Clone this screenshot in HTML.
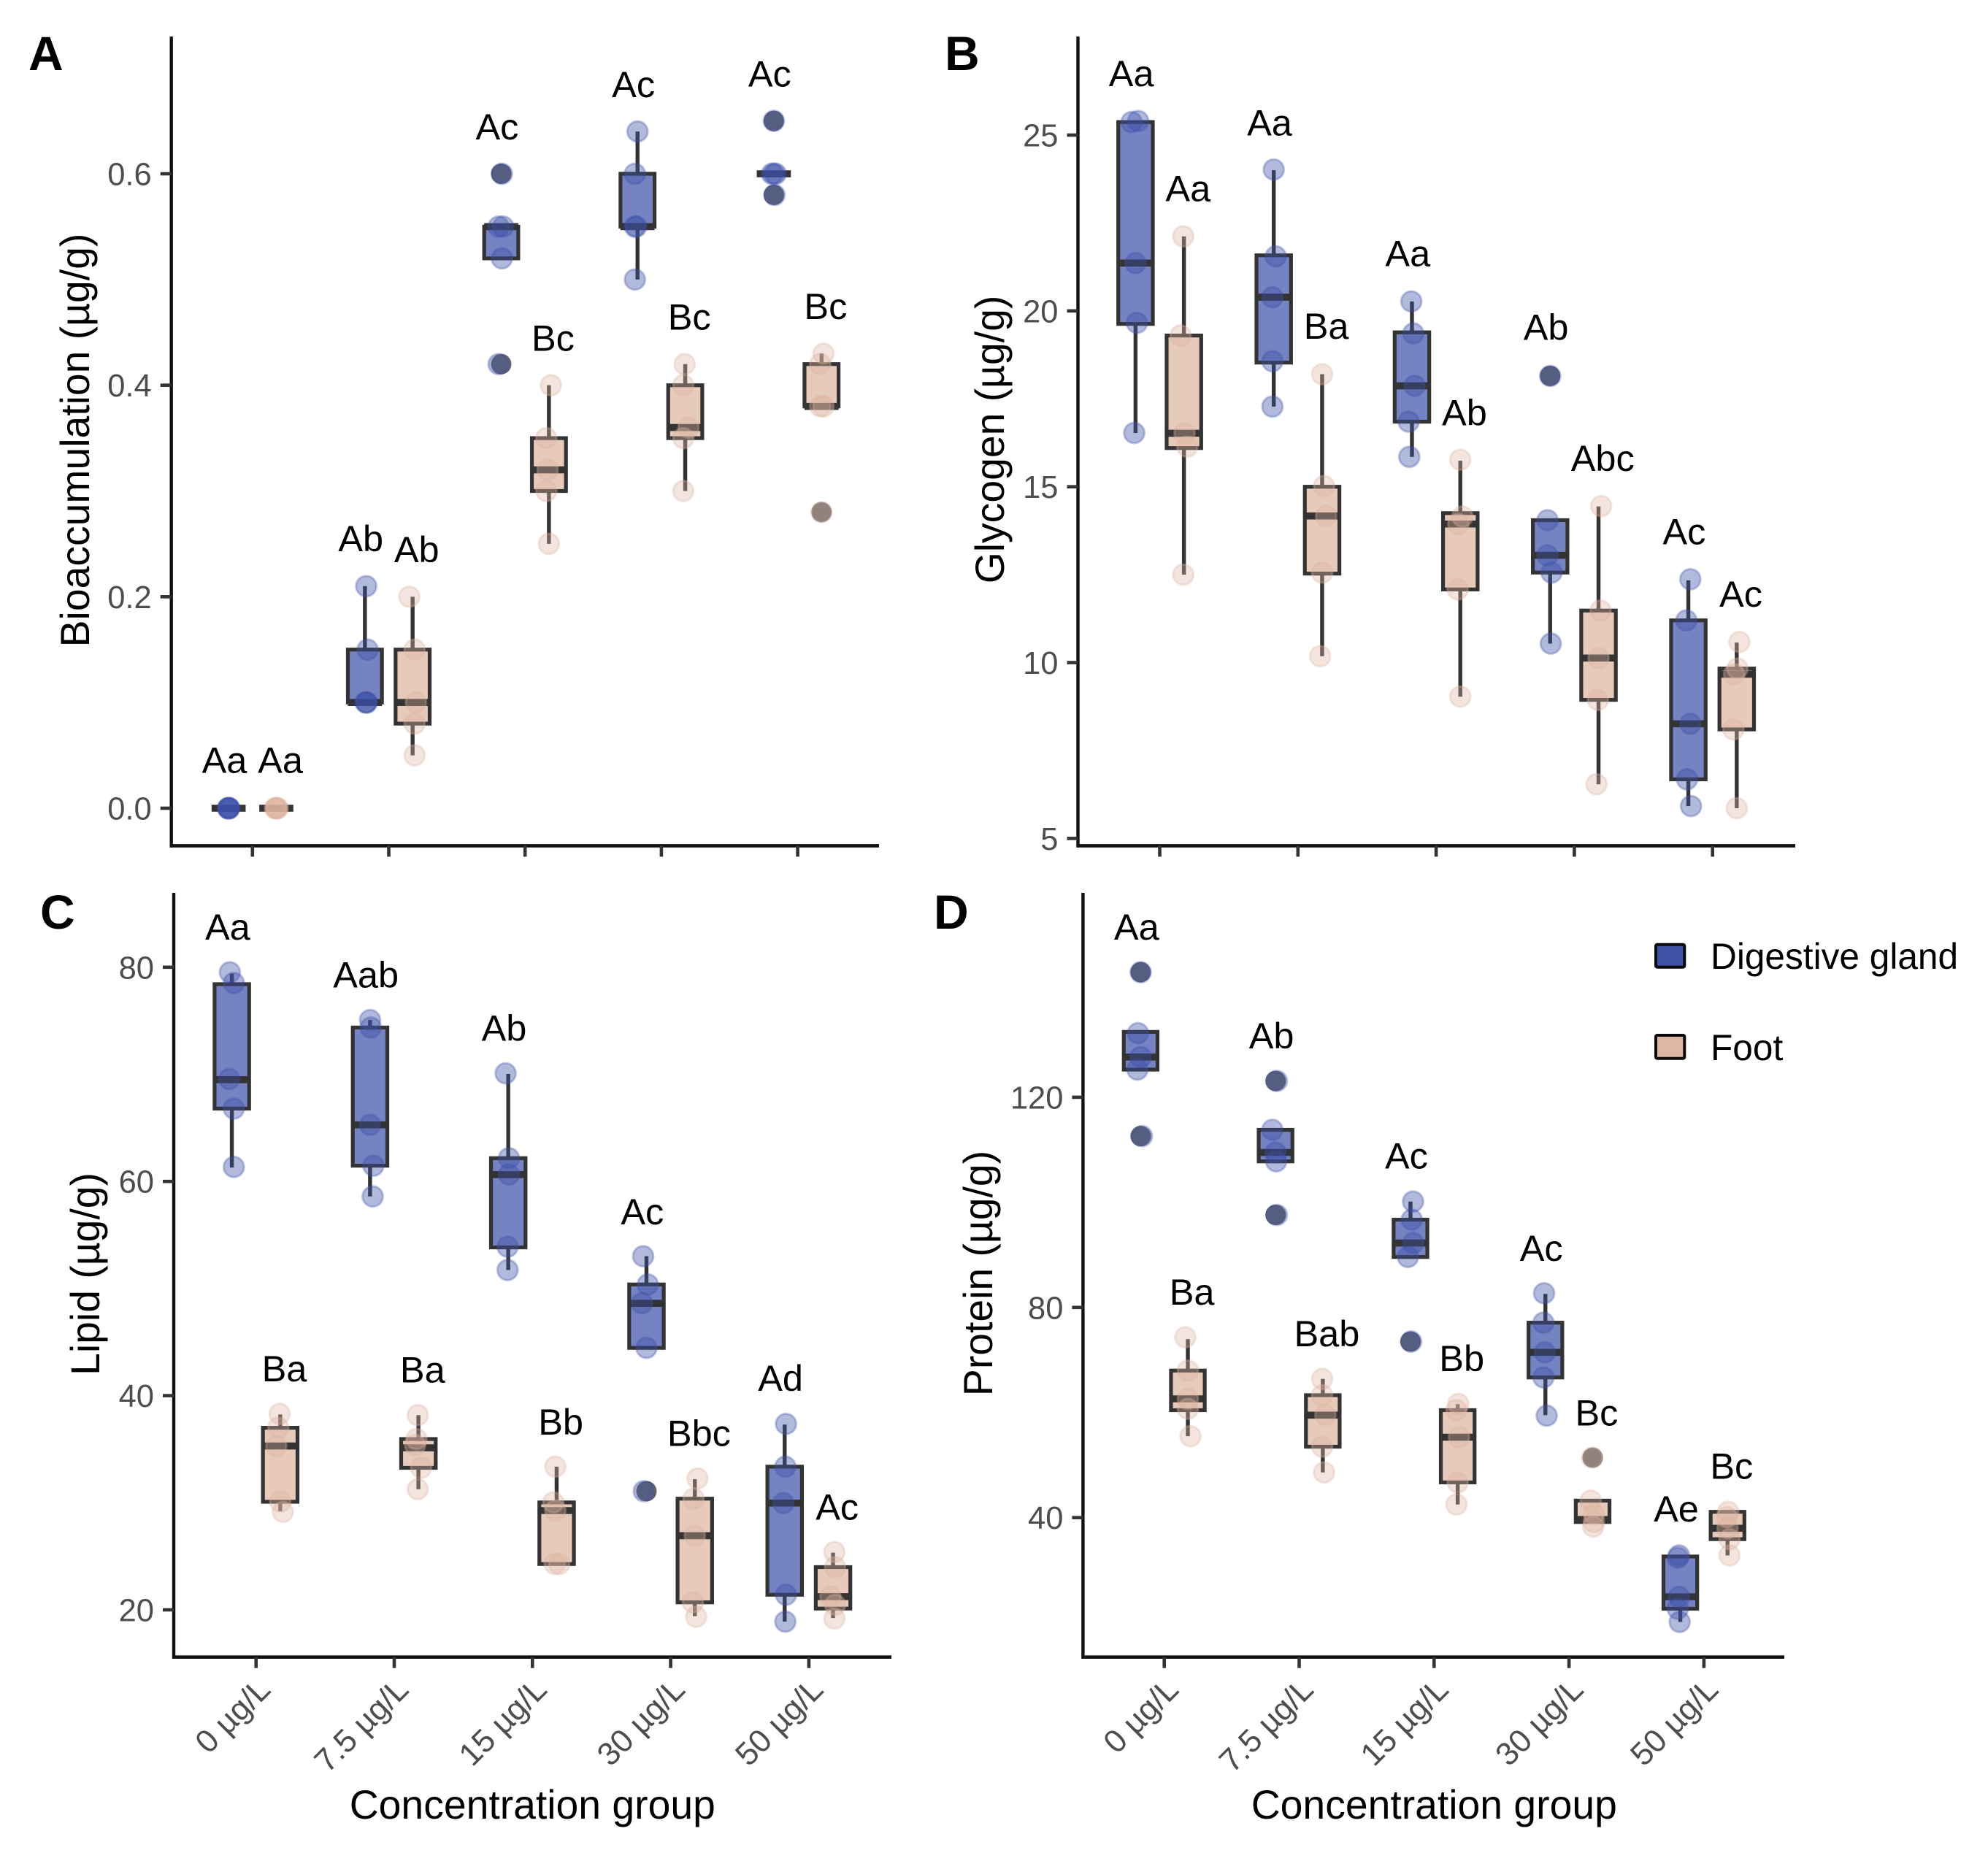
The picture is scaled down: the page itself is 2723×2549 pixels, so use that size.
<!DOCTYPE html>
<html lang="en">
<head>
<meta charset="utf-8">
<title>Bioaccumulation, glycogen, lipid and protein by concentration group</title>
<style>
html,body{margin:0;padding:0;background:#fff}
svg{display:block}
text{font-family:"Liberation Sans",Arial,sans-serif}
</style>
</head>
<body>
<svg id="figure" xmlns="http://www.w3.org/2000/svg" width="2723" height="2549" viewBox="0 0 2723 2549">
<rect x="0" y="0" width="2723" height="2549" fill="#ffffff"/>
<g>
<g>
<rect x="2268" y="1293.7" width="39.3" height="31" rx="2" fill="#3f51a5" stroke="#0a0a0a" stroke-width="4"/>
<text x="2343" y="1327" font-size="49.6" fill="#000">Digestive gland</text>
</g>
<g>
<rect x="2268" y="1418" width="39.3" height="31.7" rx="2" fill="#dfb6a3" stroke="#0a0a0a" stroke-width="4"/>
<text x="2343" y="1452" font-size="49.6" fill="#000">Foot</text>
</g>
</g>
<script>
// ---------- shared data ----------
const categories = ["0 µg/L", "7.5 µg/L", "15 µg/L", "30 µg/L", "50 µg/L"];

// Each box row: [lower whisker, Q1, median, Q3, upper whisker]
// Each point: [value, horizontal jitter]

// ---------- Panel A: Bioaccumulation ----------
const aTickValues = [0, 0.2, 0.4, 0.6];
const aTickLabels = ["0.0", "0.2", "0.4", "0.6"];
const aGlandBoxes = [[0,0,0,0,0],[0.1,0.1,0.1,0.15,0.21],[0.52,0.52,0.55,0.55,0.55],[0.5,0.55,0.55,0.6,0.64],[0.6,0.6,0.6,0.6,0.6]];
const aFootBoxes = [[0,0,0,0,0],[0.05,0.08,0.1,0.15,0.2],[0.25,0.3,0.32,0.35,0.4],[0.3,0.35,0.36,0.4,0.42],[0.38,0.38,0.38,0.42,0.43]];
const aGlandOutliers = [[],[],[0.6,0.42],[],[0.65,0.58]];
const aFootOutliers = [[],[],[],[],[0.28]];
const aGlandPoints = [
 [[0,-1],[0,0],[0,1],[0,0],[0,0]],
 [[0.21,2],[0.15,4],[0.1,2],[0.1,1],[0.1,3]],
 [[0.6,1],[0.55,-4],[0.55,3],[0.52,1],[0.42,-4]],
 [[0.64,0],[0.6,-4],[0.55,-2],[0.55,-4],[0.5,-4]],
 [[0.65,0],[0.6,0],[0.6,3],[0.6,-3],[0.58,1]]];
const aFootPoints = [
 [[0,-1],[0,1],[0,0],[0,2],[0,-2]],
 [[0.2,-5],[0.15,3],[0.1,5],[0.08,3],[0.05,3]],
 [[0.4,3],[0.35,-4],[0.32,-2],[0.3,-4],[0.25,0]],
 [[0.42,-1],[0.4,-3],[0.36,5],[0.35,-3],[0.3,-3]],
 [[0.43,3],[0.42,-2],[0.38,3],[0.38,-2],[0.28,0]]];
const aGlandLabels = ["Aa","Ab","Ac","Ac","Ac"];
const aFootLabels = ["Aa","Ab","Bc","Bc","Bc"];
const aGlandLabelValues = [0.045,0.2546,0.6438,0.684,0.694];
const aFootLabelValues = [0.045,0.244,0.444,0.464,0.474];

// ---------- Panel B: Glycogen ----------
const bTickValues = [5, 10, 15, 20, 25];
const bTickLabels = ["5", "10", "15", "20", "25"];
const bGlandBoxes = [[16.53,19.63,21.36,25.37,25.37],[17.28,18.53,20.39,21.58,24.0],[15.85,16.85,17.87,19.39,20.27],[10.54,12.56,13.05,14.05,14.05],[5.92,6.68,8.26,11.2,12.34]];
const bFootBoxes = [[12.5,16.1,16.52,19.3,22.12],[10.18,12.53,14.17,15.0,18.2],[9.03,12.08,13.94,14.25,15.74],[6.54,8.94,10.13,11.48,14.44],[5.86,8.1,9.67,9.83,10.57]];
const bGlandOutliers = [[],[],[],[18.15],[]];
const bFootOutliers = [[],[],[],[],[]];
const bGlandPoints = [
 [[25.37,-6],[25.4,4],[21.36,0],[19.66,2],[16.53,-2]],
 [[24.02,0],[21.55,3],[20.39,-2],[18.57,-2],[17.28,-2]],
 [[20.27,-1],[19.36,2],[17.87,4],[16.85,-5],[15.85,-4]],
 [[14.05,-4],[13.05,-4],[12.56,2],[10.54,1],[18.15,0]],
 [[12.37,3],[11.2,-3],[8.26,3],[6.68,-2],[5.92,4]]];
const bFootPoints = [
 [[22.12,-1],[19.3,-5],[16.52,1],[16.14,5],[12.5,-1]],
 [[18.2,0],[15.02,3],[14.17,6],[12.56,0],[10.18,-3]],
 [[15.77,0],[14.15,3],[13.94,-3],[12.08,-4],[9.03,0]],
 [[14.45,4],[11.48,3],[10.13,0],[8.94,-1],[6.54,-3]],
 [[10.59,4],[9.83,1],[9.67,-4],[8.1,-5],[5.86,0]]];
const bGlandLabels = ["Aa","Aa","Aa","Ab","Ac"];
const bFootLabels = ["Aa","Ba","Ab","Abc","Ac"];
const bGlandLabelValues = [26.73,25.33,21.62,19.52,13.71];
const bFootLabelValues = [23.46,19.55,17.09,15.79,11.93];

// ---------- Panel C: Lipid ----------
const cTickValues = [20, 40, 60, 80];
const cTickLabels = ["20", "40", "60", "80"];
const cGlandBoxes = [[61.3,66.8,69.5,78.42,79.4],[58.6,61.47,65.28,74.37,75.07],[51.73,53.84,60.64,62.17,70.03],[44.46,44.46,48.62,50.38,53.02],[18.9,21.41,29.97,33.37,37.3]];
const cFootBoxes = [[29.2,30.09,35.3,37.0,38.24],[31.26,33.26,35.13,35.95,38.18],[24.28,24.28,29.27,30.03,33.37],[19.41,20.7,26.92,30.38,32.2],[19.24,20.12,21.23,23.99,25.34]];
const cGlandOutliers = [[],[],[],[31.08],[]];
const cFootOutliers = [[],[],[],[],[]];
const cGlandPoints = [
 [[79.53,-3],[78.53,3],[69.56,-4],[66.8,3],[61.35,3]],
 [[75.07,0],[74.37,1],[65.28,0],[61.47,5],[58.6,4]],
 [[70.09,-4],[62.17,1],[60.64,1],[53.9,-1],[51.73,-1]],
 [[53.02,-5],[50.38,2],[48.62,-7],[44.46,0],[31.08,-4]],
 [[37.36,2],[33.37,1],[29.97,-2],[21.41,2],[18.9,1]]];
const cFootPoints = [
 [[38.3,-1],[37.0,-3],[35.3,-6],[30.1,0],[29.15,4]],
 [[38.18,-1],[35.95,-3],[35.4,-5],[33.26,4],[31.26,-1]],
 [[33.37,-2],[30.03,-5],[29.27,-2],[24.28,-3],[24.28,4]],
 [[32.26,4],[30.38,-2],[26.92,0],[20.7,-3],[19.35,2]],
 [[25.4,2],[23.99,3],[21.23,-4],[20.47,3],[19.18,2]]];
const cGlandLabels = ["Aa","Aab","Ab","Ac","Ad"];
const cFootLabels = ["Ba","Ba","Bb","Bbc","Ac"];
const cGlandLabelValues = [83.69,79.24,74.25,57.13,41.58];
const cFootLabelValues = [42.46,42.35,37.48,36.42,29.56];

// ---------- Panel D: Protein ----------
const dTickValues = [40, 80, 120];
const dTickLabels = ["40", "80", "120"];
const dGlandBoxes = [[125.26,125.26,127.65,132.44,132.44],[107.8,107.8,109.48,113.8,113.8],[89.6,89.6,92.26,96.7,100.15],[59.5,66.67,71.45,77.1,82.57],[20.15,22.66,24.93,32.6,32.6]];
const dFootBoxes = [[55.5,60.45,62.6,67.98,73.96],[48.6,53.5,59.5,63.3,66.4],[42.5,46.7,55.3,60.45,61.6],[39.16,39.16,39.64,43.23,43.23],[32.8,35.9,37.97,41.1,41.1]];
const dGlandOutliers = [[143.8,112.6],[123.1,97.6],[73.5],[],[]];
const dFootOutliers = [[],[],[],[51.4],[]];
const dGlandPoints = [
 [[143.8,0],[132.2,-4],[127.65,0],[125.26,-5],[112.6,2]],
 [[123.1,2],[113.8,-5],[109.48,0],[107.8,1],[97.6,2]],
 [[100.15,4],[96.7,2],[92.26,4],[89.6,-4],[73.5,1]],
 [[82.7,-2],[77.1,-3],[71.45,-1],[66.67,-3],[59.4,2]],
 [[32.8,-2],[32.35,-4],[24.93,-2],[22.66,-4],[20.15,-1]]];
const dFootPoints = [
 [[74.32,-4],[67.98,0],[62.6,0],[60.7,0],[55.5,4]],
 [[66.4,-1],[63.3,-1],[59.5,4],[53.5,-1],[48.6,2]],
 [[61.65,1],[60.45,-2],[55.3,2],[46.7,0],[42.5,-2]],
 [[51.4,-1],[43.23,-3],[40.7,2],[39.16,2],[38.3,1]],
 [[41.1,1],[40.1,-1],[37.97,0],[35.9,3],[32.8,3]]];
const dGlandLabels = ["Aa","Ab","Ac","Ac","Ae"];
const dFootLabels = ["Ba","Bab","Bb","Bc","Bc"];
const dGlandLabelValues = [152.3,131.6,108.76,91.18,41.55];
const dFootLabelValues = [82.81,74.92,70.14,59.85,49.69];

// ---------- drawing ----------
const svgNS = "http://www.w3.org/2000/svg";
const figure = document.getElementById("figure");
const boxDodge = 0.175;
const labelDodge = 0.205;
const boxWidth = 0.25;
const jitterUnit = 0.0048;
const gland = {key: "digestive-gland", fill: "#3b4fa8", point: "#3b4fa8", opacity: 0.4, sign: -1};
const foot = {key: "foot", fill: "#dcb39c", point: "#dfb4a0", opacity: 0.36, sign: 1};

function make(tag, parent, attrs, text) {
  const el = document.createElementNS(svgNS, tag);
  for (const k in attrs) el.setAttribute(k, attrs[k]);
  if (text !== undefined) el.textContent = text;
  parent.appendChild(el);
  return el;
}

function drawSeries(root, layout, series, boxes, outliers, points, labels, labelValues) {
  const xPos = c => layout.x0 + c * layout.dx;
  const yPos = v => layout.yA + (v - layout.vA) * layout.k;
  boxes.forEach((b, i) => {
    const cx = xPos(i + series.sign * boxDodge);
    const halfW = boxWidth * layout.dx / 2;
    const g = make("g", root, {});
    
    
    const wLow = make("line", g, {x1: cx, x2: cx, y1: yPos(b[0]), y2: yPos(b[1]), stroke: "#333", "stroke-width": 5.4});
    
    
    const wHigh = make("line", g, {x1: cx, x2: cx, y1: yPos(b[3]), y2: yPos(b[4]), stroke: "#333", "stroke-width": 5.4});
    
    
    const rc = make("rect", g, {x: cx - halfW, y: yPos(b[3]), width: 2 * halfW, height: yPos(b[1]) - yPos(b[3]), fill: series.fill, "fill-opacity": 0.7, stroke: "#333", "stroke-width": 5.2});
    
    
    const md = make("line", g, {x1: cx - halfW, x2: cx + halfW, y1: yPos(b[2]), y2: yPos(b[2]), stroke: "#333", "stroke-width": 9.6});
    
    
    outliers[i].forEach(v => {
      const o = make("circle", g, {cx: cx, cy: yPos(v), r: 14, fill: "#333", "fill-opacity": 0.75});
      
      
    });
  });
  points.forEach((group, i) => {
    group.forEach(p => {
      const pt = make("circle", root, {cx: xPos(i + series.sign * boxDodge + p[1] * jitterUnit), cy: yPos(p[0]), r: 14, fill: series.point, "fill-opacity": series.opacity, stroke: series.point, "stroke-opacity": 0.3, "stroke-width": 3});
      
      
    });
  });
  labels.forEach((txt, i) => {
    const t = make("text", root, {x: xPos(i + series.sign * labelDodge), y: yPos(labelValues[i]) + 16.5, "text-anchor": "middle", "font-size": 50.5, fill: "#000"}, txt);
    
    
  });
}

function drawAxes(root, layout, tickValues, tickLabels) {
  const xPos = c => layout.x0 + c * layout.dx;
  const yPos = v => layout.yA + (v - layout.vA) * layout.k;
  const yAxis = make("line", root, {x1: layout.left, x2: layout.left, y1: layout.top, y2: layout.bottom + 2.3, stroke: "#111", "stroke-width": 4.4});
  
  
  const xAxis = make("line", root, {x1: layout.left - 2, x2: layout.right, y1: layout.bottom, y2: layout.bottom, stroke: "#111", "stroke-width": 4.6});
  
  
  tickValues.forEach((v, i) => {
    const tk = make("line", root, {x1: layout.left - 15, x2: layout.left, y1: yPos(v), y2: yPos(v), stroke: "#333", "stroke-width": 4.6});
    
    
    const tl = make("text", root, {x: layout.left - 27, y: yPos(v) + 15.5, "text-anchor": "end", "font-size": 43.5, fill: "#4d4d4d"}, tickLabels[i]);
    
    
  });
  categories.forEach((c, i) => {
    const tk = make("line", root, {x1: xPos(i), x2: xPos(i), y1: layout.bottom, y2: layout.bottom + 15, stroke: "#333", "stroke-width": 4.6});
    
    
    if (layout.showX) {
      const tl = make("text", root, {transform: "translate(" + (xPos(i) + 22) + "," + (layout.bottom + 47) + ") rotate(-45)", "text-anchor": "end", "font-size": 44, fill: "#4d4d4d"}, c);
      
      
    }
  });
  if (layout.showX) {
    const xt = make("text", root, {x: xPos(2), y: 2491, "text-anchor": "middle", "font-size": 55.3, fill: "#000"}, "Concentration group");
    
    
  }
  const yt = make("text", root, {transform: "translate(" + layout.titleX + "," + layout.titleY + ") rotate(-90)", "text-anchor": "middle", "font-size": 55.3, fill: "#000"}, layout.title);
  
  
  const pl = make("text", root, {x: layout.tagX, y: layout.tagY, "font-size": 66, "font-weight": "bold", fill: "#000"}, layout.tag);
  
  
}

function panelGroup(name) {
  const g = document.createElementNS(svgNS, "g");
  figure.appendChild(g);
  
  
  return g;
}

const layoutA = {tag: "A", tagX: 39, tagY: 96, title: "Bioaccumulation (µg/g)", titleX: 122, titleY: 603, left: 234.7, right: 1204, top: 50, bottom: 1158.4, x0: 345.8, dx: 186.7, vA: 0, yA: 1107, k: -1448.3, showX: false};
const layoutB = {tag: "B", tagX: 1294, tagY: 96, title: "Glycogen (µg/g)", titleX: 1375, titleY: 602, left: 1476.5, right: 2459, top: 50, bottom: 1158.4, x0: 1588.5, dx: 189.3, vA: 25, yA: 185, k: -48.17, showX: false};
const layoutC = {tag: "C", tagX: 55, tagY: 1272, title: "Lipid (µg/g)", titleX: 136, titleY: 1745, left: 238, right: 1221, top: 1223, bottom: 2269.7, x0: 350.7, dx: 189.3, vA: 80, yA: 1324.8, k: -14.67, showX: true};
const layoutD = {tag: "D", tagX: 1279, tagY: 1272, title: "Protein (µg/g)", titleX: 1359, titleY: 1744, left: 1483.4, right: 2444, top: 1223, bottom: 2269.7, x0: 1594.7, dx: 184.8, vA: 120, yA: 1502.9, k: -7.197, showX: true};

const panelA = panelGroup('panel-a-bioaccumulation');
drawAxes(panelA, layoutA, aTickValues, aTickLabels);
drawSeries(panelA, layoutA, gland, aGlandBoxes, aGlandOutliers, aGlandPoints, aGlandLabels, aGlandLabelValues);
drawSeries(panelA, layoutA, foot, aFootBoxes, aFootOutliers, aFootPoints, aFootLabels, aFootLabelValues);

const panelB = panelGroup('panel-b-glycogen');
drawAxes(panelB, layoutB, bTickValues, bTickLabels);
drawSeries(panelB, layoutB, gland, bGlandBoxes, bGlandOutliers, bGlandPoints, bGlandLabels, bGlandLabelValues);
drawSeries(panelB, layoutB, foot, bFootBoxes, bFootOutliers, bFootPoints, bFootLabels, bFootLabelValues);

const panelC = panelGroup('panel-c-lipid');
drawAxes(panelC, layoutC, cTickValues, cTickLabels);
drawSeries(panelC, layoutC, gland, cGlandBoxes, cGlandOutliers, cGlandPoints, cGlandLabels, cGlandLabelValues);
drawSeries(panelC, layoutC, foot, cFootBoxes, cFootOutliers, cFootPoints, cFootLabels, cFootLabelValues);

const panelD = panelGroup('panel-d-protein');
drawAxes(panelD, layoutD, dTickValues, dTickLabels);
drawSeries(panelD, layoutD, gland, dGlandBoxes, dGlandOutliers, dGlandPoints, dGlandLabels, dGlandLabelValues);
drawSeries(panelD, layoutD, foot, dFootBoxes, dFootOutliers, dFootPoints, dFootLabels, dFootLabelValues);
</script>
</svg>
</body>
</html>
